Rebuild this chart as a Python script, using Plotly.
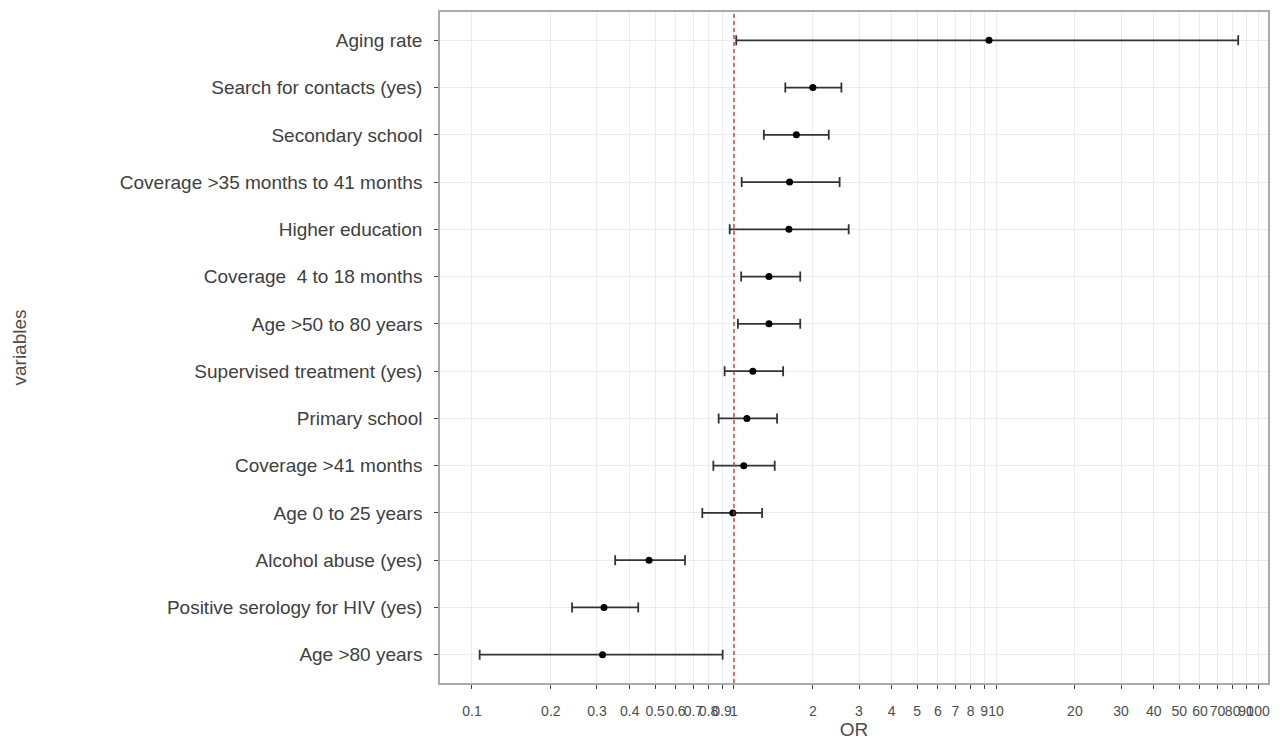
import plotly.graph_objects as go

# Datos (OR con IC 95%)
variables = [
    "Aging rate",
    "Search for contacts (yes)",
    "Secondary school",
    "Coverage >35 months to 41 months",
    "Higher education",
    "Coverage  4 to 18 months",
    "Age >50 to 80 years",
    "Supervised treatment (yes)",
    "Primary school",
    "Coverage >41 months",
    "Age 0 to 25 years",
    "Alcohol abuse (yes)",
    "Positive serology for HIV (yes)",
    "Age >80 years",
]
odds_ratio = [9.4, 2.0, 1.73, 1.63, 1.62, 1.36, 1.36, 1.18, 1.12, 1.09, 0.99, 0.474, 0.319, 0.315]
ci_low = [1.02, 1.57, 1.30, 1.07, 0.963, 1.065, 1.035, 0.921, 0.874, 0.834, 0.757, 0.352, 0.241, 0.107]
ci_high = [84.0, 2.57, 2.30, 2.53, 2.74, 1.79, 1.79, 1.54, 1.46, 1.43, 1.28, 0.65, 0.431, 0.905]

tick_vals = [0.1, 0.2, 0.3, 0.4, 0.5, 0.6, 0.7, 0.8, 0.9, 1,
             2, 3, 4, 5, 6, 7, 8, 9, 10,
             20, 30, 40, 50, 60, 70, 80, 90, 100]
tick_text = [str(v) for v in tick_vals]

err_plus = [h - o for h, o in zip(ci_high, odds_ratio)]
err_minus = [o - l for o, l in zip(odds_ratio, ci_low)]

fig = go.Figure()

fig.add_trace(go.Scatter(
    x=odds_ratio,
    y=variables,
    mode="markers",
    marker=dict(color="black", size=7, symbol="circle"),
    error_x=dict(type="data", symmetric=False, array=err_plus, arrayminus=err_minus,
                 color="#333333", thickness=1.8, width=5),
    showlegend=False,
))

# Línea de referencia OR = 1
fig.add_vline(x=1, line=dict(color="#d62728", width=1.3, dash="4px,3px"))

# la página deja 8px de margen, se compensa en el tamaño
fig.update_layout(
    width=1272,
    height=743,
    margin=dict(l=432, r=12, t=2, b=68),
    paper_bgcolor="white",
    plot_bgcolor="white",
    font=dict(family="Liberation Sans, Arial, sans-serif", color="#333333"),
)

fig.update_xaxes(
    type="log",
    range=[-1.122, 2.038],
    tickvals=tick_vals,
    ticktext=tick_text,
    tickangle=0,
    tickfont=dict(size=14, color="#4d4d4d"),
    ticks="outside",
    ticklen=4,
    tickcolor="#444444",
    ticklabelstandoff=10,
    showgrid=True,
    gridcolor="#ebebeb",
    gridwidth=1,
    zeroline=False,
    showline=True,
    linecolor="#aaaaaa",
    linewidth=1.5,
    mirror=True,
    title=dict(text="OR", font=dict(size=19, color="#4d4d4d"), standoff=4),
)

fig.update_yaxes(
    type="category",
    categoryorder="array",
    categoryarray=variables,
    range=[13.6, -0.6],
    tickfont=dict(size=19, color="#404040"),
    ticks="outside",
    ticklen=4,
    tickcolor="#444444",
    ticklabelstandoff=8,
    showgrid=True,
    gridcolor="#ebebeb",
    gridwidth=1,
    showline=True,
    linecolor="#aaaaaa",
    linewidth=1.5,
    mirror=True,
    title=dict(text="variables", font=dict(size=19, color="#4d4d4d"), standoff=88),
)

fig.write_html("out.html")
